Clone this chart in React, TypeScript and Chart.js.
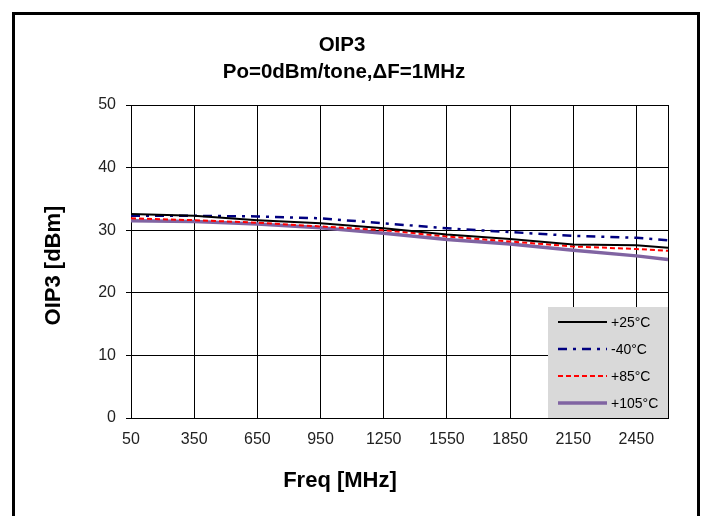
import React, { useEffect, useRef } from 'react';
import { Chart, registerables } from 'chart.js';

Chart.register(...registerables);

const freqs = [50, 350, 650, 950, 1250, 1550, 1850, 2150, 2450, 2600];
const xTickValues = [50, 350, 650, 950, 1250, 1550, 1850, 2150, 2450, 2600];
const xTickLabels = ['50', '350', '650', '950', '1250', '1550', '1850', '2150', '2450', ''];
const yTickValues = [0, 10, 20, 30, 40, 50];
const seriesNames = ['+25°C', '-40°C', '+85°C', '+105°C'];
const oip3At25 = [32.6, 32.3, 31.6, 31.1, 30.3, 29.3, 28.6, 27.7, 27.6, 27.2];
const oip3AtM40 = [32.3, 32.3, 32.2, 31.9, 31.1, 30.3, 29.7, 29.1, 28.8, 28.4];
const oip3At85 = [31.9, 31.6, 31.2, 30.6, 30.0, 29.0, 28.2, 27.4, 27.0, 26.7];
const oip3At105 = [31.5, 31.4, 31.0, 30.4, 29.5, 28.5, 27.8, 26.8, 25.9, 25.3];
const titleLines = ['OIP3', 'Po=0dBm/tone,ΔF=1MHz'];
const xTitle = 'Freq [MHz]';
const yTitle = 'OIP3 [dBm]';

const FONT = '"Liberation Sans", Arial, sans-serif';

const textAndLegend = {
  id: 'textAndLegend',
  afterDraw(chart: any) {
    const { ctx, chartArea } = chart;
    ctx.save();

    // Legend box inside plot, bottom-right
    const w = 120;
    const h = 111;
    const x0 = chartArea.right - w;
    const y0 = chartArea.bottom - h;
    ctx.fillStyle = '#d9d9d9';
    ctx.fillRect(x0, y0, w, h);
    chart.data.datasets.forEach((ds: any, i: number) => {
      const y = y0 + 15 + i * 27;
      ctx.strokeStyle = ds.borderColor;
      ctx.lineWidth = ds.borderWidth;
      ctx.setLineDash(ds.borderDash || []);
      ctx.beginPath();
      ctx.moveTo(x0 + 10, y);
      ctx.lineTo(x0 + 59, y);
      ctx.stroke();
      ctx.setLineDash([]);
      ctx.fillStyle = '#000';
      ctx.font = `14px ${FONT}`;
      ctx.textBaseline = 'middle';
      ctx.textAlign = 'left';
      ctx.fillText(ds.label, x0 + 63, y + 1);
    });

    ctx.fillStyle = '#000';
    ctx.textAlign = 'center';
    ctx.textBaseline = 'middle';

    // Chart title
    ctx.font = `bold 20.5px ${FONT}`;
    ctx.fillText(titleLines[0], 327, 30);
    ctx.fillText(titleLines[1], 329, 57);

    // X axis title
    ctx.font = `bold 22px ${FONT}`;
    ctx.fillText(xTitle, chartArea.left + 209, chartArea.bottom + 62.5);

    // Y axis title
    ctx.save();
    ctx.translate(39, (chartArea.top + chartArea.bottom) / 2 + 4);
    ctx.rotate(-Math.PI / 2);
    ctx.fillText(yTitle, 0, 0);
    ctx.restore();

    ctx.restore();
  },
};

export default function App() {
  const ref = useRef<HTMLCanvasElement>(null);
  useEffect(() => {
    const mk = (vals: number[]) => vals.map((v, i) => ({ x: freqs[i], y: v }));
    const chart = new Chart(ref.current!, {
      type: 'line',
      data: {
        datasets: [
          { label: seriesNames[0], data: mk(oip3At25), borderColor: '#000000', borderWidth: 2, pointRadius: 0, fill: false },
          { label: seriesNames[1], data: mk(oip3AtM40), borderColor: '#000080', borderWidth: 2.5, borderDash: [9, 6, 3, 6], pointRadius: 0, fill: false },
          { label: seriesNames[2], data: mk(oip3At85), borderColor: '#ff0000', borderWidth: 2, borderDash: [5, 3], pointRadius: 0, fill: false },
          { label: seriesNames[3], data: mk(oip3At105), borderColor: '#8064a2', borderWidth: 3.5, pointRadius: 0, fill: false },
        ],
      },
      options: {
        responsive: false,
        animation: false,
        layout: { padding: { left: 26, right: 29, top: 90, bottom: 62 } },
        plugins: {
          legend: { display: false },
          tooltip: { enabled: false },
          title: { display: false },
        },
        scales: {
          x: {
            type: 'linear',
            min: 50,
            max: 2600,
            afterFit: (s: any) => { s.height = 40; },
            afterBuildTicks: (s: any) => { s.ticks = xTickValues.map((v) => ({ value: v })); },
            ticks: {
              color: '#222',
              font: { family: FONT, size: 16 },
              padding: 11.5,
              maxRotation: 0,
              autoSkip: false,
              callback: (v: any) => xTickLabels[xTickValues.indexOf(Number(v))] ?? '',
            },
            grid: { color: '#000', lineWidth: 1, drawTicks: false },
            border: { display: true, color: '#000', width: 1 },
          },
          y: {
            type: 'linear',
            min: 0,
            max: 50,
            afterFit: (s: any) => { s.width = 90; },
            afterBuildTicks: (s: any) => { s.ticks = yTickValues.map((v) => ({ value: v })); },
            ticks: {
              color: '#222',
              font: { family: FONT, size: 16 },
              padding: 10,
            },
            grid: { color: '#000', lineWidth: 1, drawTicks: true, tickLength: 5 },
            border: { display: true, color: '#000', width: 1 },
          },
        },
      },
      plugins: [textAndLegend],
    });
    return () => chart.destroy();
  }, []);
  return (
    <div
      style={{
        position: 'absolute',
        left: 12,
        top: 12,
        width: 682,
        height: 505,
        border: '3px solid #000',
        background: '#fff',
      }}
    >
      <canvas ref={ref} width={682} height={505} style={{ display: 'block' }} />
    </div>
  );
}
